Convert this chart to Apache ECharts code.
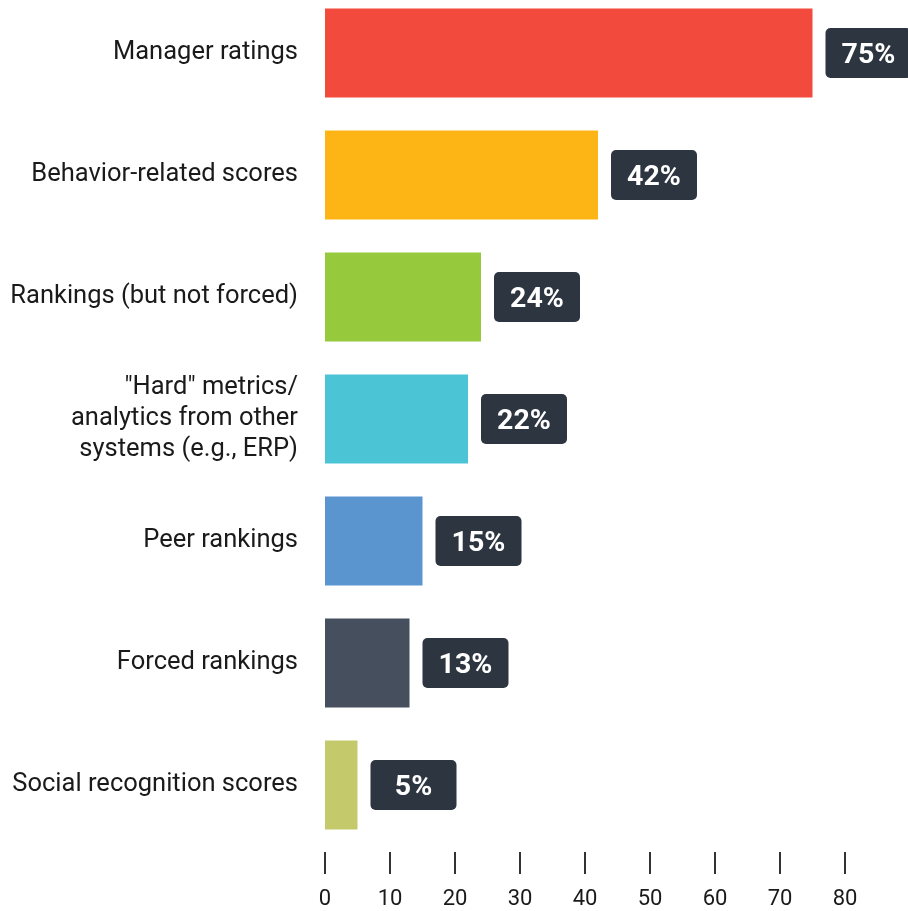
<!DOCTYPE html>
<html>
<head>
<meta charset="utf-8">
<script src="https://cdn.jsdelivr.net/npm/echarts@6/dist/echarts.min.js"></script>
<style>
  html, body { margin: 0; padding: 0; background: #fff; }
  #chart { width: 908px; height: 911px; }
</style>
</head>
<body>
<div id="chart"></div>
<script>
// data
var categories = [
  'Manager ratings',
  'Behavior-related scores',
  'Rankings (but not forced)',
  '"Hard" metrics/\nanalytics from other\nsystems (e.g., ERP)',
  'Peer rankings',
  'Forced rankings',
  'Social recognition scores'
];
var values = [75, 42, 24, 22, 15, 13, 5];
var barColors = ['#f24a3d', '#fdb515', '#97c93d', '#4bc4d6', '#5b95cf', '#454f5d', '#c4c96c'];

var chart = echarts.init(document.getElementById('chart'));

var option = {
  animation: false,
  textStyle: { fontFamily: 'Roboto' },
  grid: { left: 325, right: 63, top: -8, height: 854, outerBoundsMode: 'none' },
  xAxis: {
    type: 'value',
    min: 0,
    max: 80,
    interval: 10,
    offset: 6,
    splitLine: { show: false },
    axisLine: { show: false },
    axisTick: { show: true, length: 22, lineStyle: { color: '#333', width: 2 } },
    axisLabel: { color: '#1a1a1a', fontSize: 22, margin: 36 }
  },
  yAxis: {
    type: 'category',
    inverse: true,
    data: categories,
    axisLine: { show: false },
    axisTick: { show: false },
    axisLabel: {
      color: '#1a1a1a', fontSize: 25.5, margin: 27, lineHeight: 31,
      align: 'right', padding: [4, 0, 0, 0]
    }
  },
  series: [{
    type: 'bar',
    barWidth: 89,
    data: values.map(function (v, i) {
      return { value: v, itemStyle: { color: barColors[i] } };
    }),
    label: {
      show: true,
      position: 'right',
      distance: 13,
      formatter: '{v|{c}%}',
      rich: {
        v: {
          color: '#fff',
          fontWeight: 'bold',
          fontSize: 28.5,
          backgroundColor: '#2d3540',
          borderRadius: 5,
          width: 86,
          height: 44,
          lineHeight: 44,
          padding: [6, 0, 0, 0],
          align: 'center'
        }
      }
    }
  }]
};

chart.setOption(option);
</script>
</body>
</html>
